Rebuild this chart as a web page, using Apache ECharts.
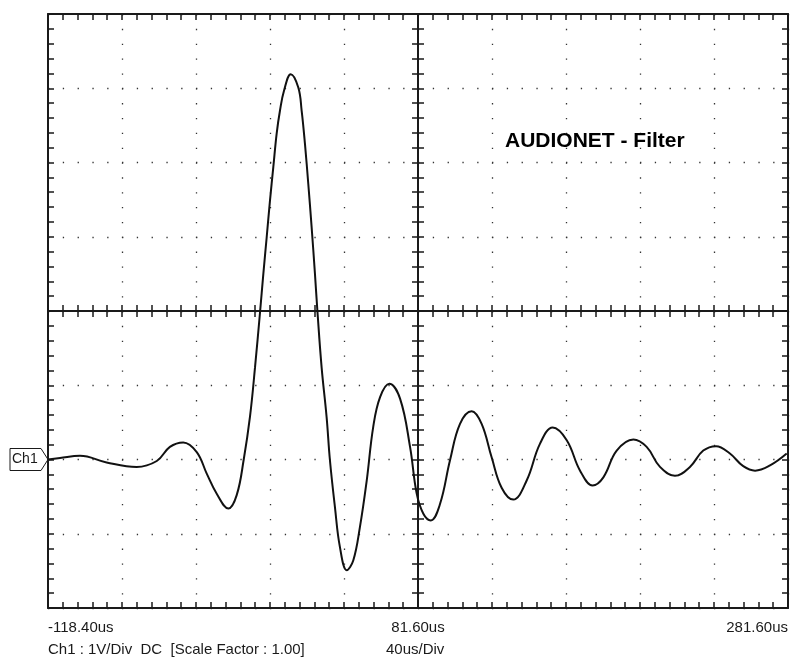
<!DOCTYPE html>
<html>
<head>
<meta charset="utf-8">
<script src="https://cdn.jsdelivr.net/npm/echarts@6/dist/echarts.min.js"></script>
<style>
	body { margin: 0; background: #fff; }
	#main { width: 793px; height: 665px; }
</style>
</head>
<body>
<div id="main"></div>
<script>
	// time in us, voltage in V (1V/div, Ch1 zero at -2 div)
	const timeUs = [-118.4, -111.9, -101.1, -86.7, -70.5, -59.6, -52.5, -45.3, -38.0, -32.6, -27.2, -20.9, -16.4, -12.6, -9.2, -6.5, -3.8, -2.0, -0.2, 1.6, 3.4, 5.2, 7.0, 9.2, 12.8, 16.9, 18.7, 20.5, 22.3, 24.1, 25.9, 27.2, 29.5, 32.2, 34.0, 36.7, 39.4, 43.1, 46.6, 50.2, 53.9, 57.4, 61.1, 66.1, 71.9, 77.3, 80.9, 84.5, 88.5, 93.5, 98.9, 104.3, 110.6, 116.0, 121.4, 126.8, 133.1, 140.4, 147.5, 154.4, 162.0, 169.2, 176.0, 181.8, 189.0, 198.0, 205.2, 212.4, 220.5, 228.6, 235.8, 242.7, 250.2, 257.4, 263.8, 271.9, 280.9];
	const volts = [0.00, 0.02, 0.05, -0.04, -0.10, -0.02, 0.17, 0.23, 0.10, -0.19, -0.46, -0.66, -0.48, 0.00, 0.58, 1.24, 1.98, 2.50, 2.99, 3.49, 3.94, 4.39, 4.70, 4.97, 5.19, 5.01, 4.70, 4.25, 3.71, 3.13, 2.50, 2.01, 1.24, 0.57, -0.01, -0.64, -1.18, -1.49, -1.36, -0.91, -0.28, 0.44, 0.84, 1.02, 0.82, 0.17, -0.46, -0.73, -0.82, -0.60, -0.01, 0.48, 0.65, 0.48, 0.03, -0.38, -0.54, -0.28, 0.21, 0.43, 0.26, -0.15, -0.35, -0.24, 0.12, 0.27, 0.17, -0.10, -0.22, -0.10, 0.12, 0.18, 0.08, -0.09, -0.15, -0.08, 0.08];
	const xRange = [-118.4, 281.6];
	const yRange = [-2, 6];
	const tickLabels = ['-118.40us', '81.60us', '281.60us'];
	const title = 'AUDIONET - Filter';
	const footLeft = 'Ch1 : 1V/Div  DC  [Scale Factor : 1.00]';
	const footMid = '40us/Div';

	const ink = '#1a1a1a';
	const font = 'Liberation Sans';

	// division axis (ticks, border, dotted grid)
	function divAxis(extra, outside) {
		let tickStyle = { color: ink, width: 1.5 };
		return Object.assign({
			type: 'value',
			interval: 1,
			axisLine: { show: true, onZero: false, lineStyle: { color: ink, width: 2 } },
			axisTick: { show: true, inside: !outside, length: 6, lineStyle: tickStyle },
			minorTick: { show: true, splitNumber: 5, length: 6, lineStyle: tickStyle },
			axisLabel: { show: false },
			splitLine: { show: false }
		}, extra);
	}
	const dotX = { show: true, lineStyle: { color: '#333', width: 1.3, type: [1.3, 13.55] } };
	const dotY = { show: true, lineStyle: { color: '#333', width: 1.3, type: [1.3, 13.5] } };

	let myChart = echarts.init(document.getElementById('main'));
	myChart.setOption({
		animation: false,
		backgroundColor: '#fff',
		title: {
			text: title,
			left: 500,
			top: 126,
			textStyle: { fontFamily: font, fontSize: 21, fontWeight: 'bold', color: '#000' }
		},
		grid: { left: 48, top: 14, width: 740, height: 594 },
		xAxis: [
			{ type: 'value', min: xRange[0], max: xRange[1], show: false, axisLine: { onZero: false } },
			divAxis({
				min: 0, max: 10, position: 'bottom', splitLine: dotX,
				axisLabel: {
					show: true, margin: 12, color: ink, fontFamily: font, fontSize: 15,
					alignMinLabel: 'left', alignMaxLabel: 'right',
					formatter: function (v) {
						if (v === 0) return tickLabels[0];
						if (v === 5) return tickLabels[1];
						if (v === 10) return tickLabels[2];
						return '';
					}
				}
			}),
			divAxis({ min: 0, max: 10, position: 'top' }),
			divAxis({ min: 0, max: 10, position: 'bottom', offset: -297 }),
			divAxis({ min: 0, max: 10, position: 'bottom', offset: -297 }, true)
		],
		yAxis: [
			{ type: 'value', min: yRange[0], max: yRange[1], show: false, axisLine: { onZero: false } },
			divAxis({ min: 0, max: 8, position: 'left', splitLine: dotY }),
			divAxis({ min: 0, max: 8, position: 'right' }),
			divAxis({ min: 0, max: 8, position: 'left', offset: -370 }),
			divAxis({ min: 0, max: 8, position: 'left', offset: -370 }, true)
		],
		series: [{
			type: 'line',
			xAxisIndex: 0,
			yAxisIndex: 0,
			data: timeUs.map((t, i) => [t, volts[i]]),
			smooth: 0.4,
			showSymbol: false,
			lineStyle: { color: '#111', width: 2 },
			z: 5
		}]
	});

	// Ch1 ground marker at 0 V, plus footer text
	let y0 = myChart.convertToPixel({ yAxisIndex: 0 }, 0);
	myChart.setOption({
		graphic: [
			{
				type: 'polygon',
				shape: { points: [[10, y0 - 11], [41, y0 - 11], [48, y0], [41, y0 + 11], [10, y0 + 11]] },
				style: { fill: '#fff', stroke: ink, lineWidth: 1 }
			},
			{
				type: 'text', x: 12, y: y0,
				style: { text: 'Ch1', fill: ink, font: '14px "' + font + '"', verticalAlign: 'middle' }
			},
			{
				type: 'text', left: 48, top: 642,
				style: { text: footLeft, fill: ink, font: '15px "' + font + '"' }
			},
			{
				type: 'text', left: 386, top: 642,
				style: { text: footMid, fill: ink, font: '15px "' + font + '"' }
			}
		]
	});
</script>
</body>
</html>
